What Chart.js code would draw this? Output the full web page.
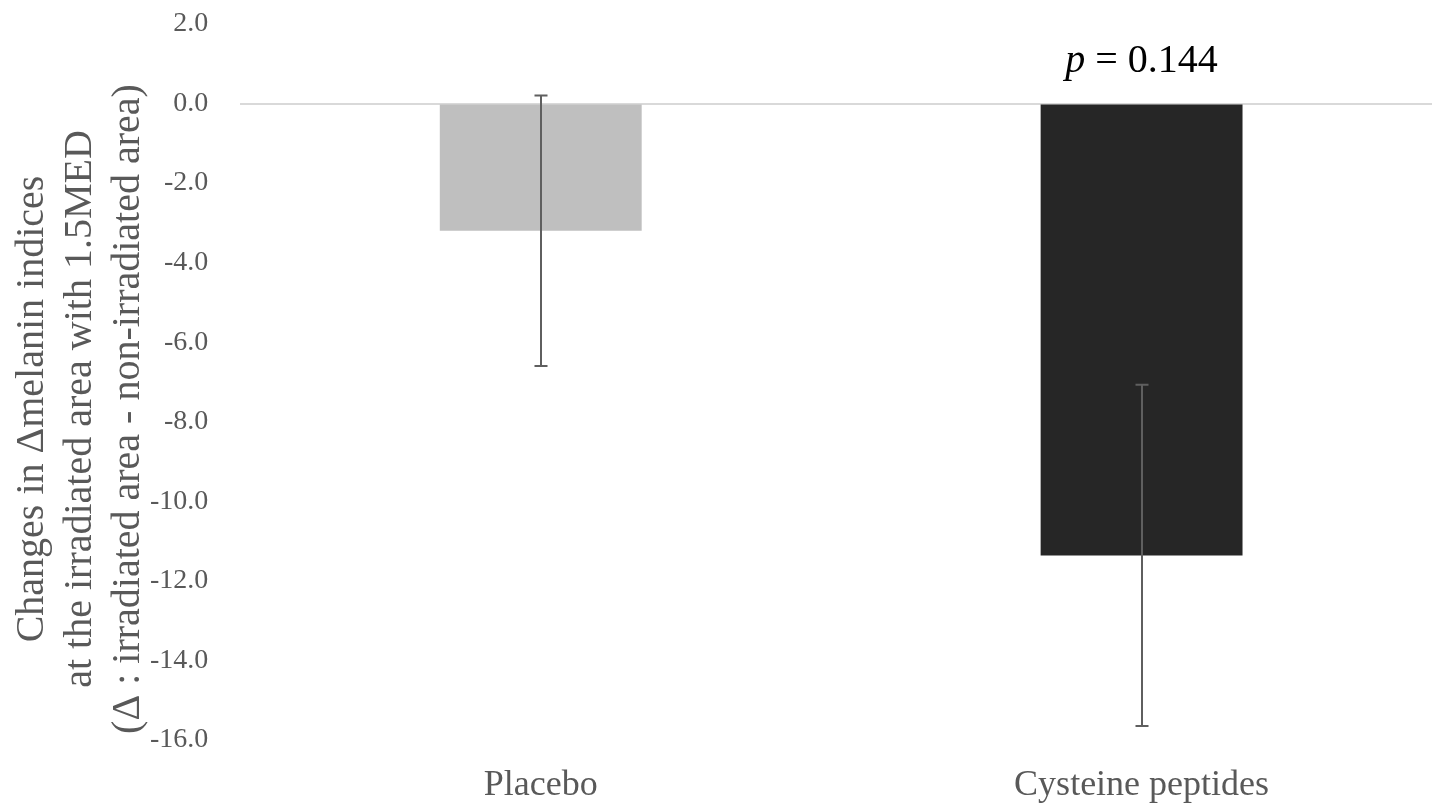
<!DOCTYPE html>
<html>
<head>
<meta charset="utf-8">
<script src="https://cdn.jsdelivr.net/npm/chart.js@4"></script>
<style>
  html, body { margin: 0; padding: 0; background: #fff; overflow: hidden; }
  /* a bit wider than the window: the zero line runs off the right edge like the original */
  #wrap { width: 1442px; height: 809px; }
</style>
</head>
<body>
<div id="wrap"><canvas id="chart"></canvas></div>
<script>
const categories = ["Placebo", "Cysteine peptides"];
const meanValues = [-3.2, -11.36];
const errorValues = [3.4, 4.29];
const barColors = ["#bfbfbf", "#262626"];
const yTicks = [2, 0, -2, -4, -6, -8, -10, -12, -14, -16];
const yTitle = [
  "Changes in \u0394melanin indices",
  "at the irradiated area with 1.5MED",
  "(\u0394 : irradiated area - non-irradiated area)"
];
const pLabel = { italic: "p", rest: " = 0.144", index: 1 };

const FONT = "'Liberation Serif', 'Times New Roman', serif";
const GREY = "#595959";
const NONE = "rgba(0,0,0,0)";

// error bars drawn through the y scale
const errorBars = {
  id: "errorBars",
  afterDatasetsDraw(chart) {
    const ctx = chart.ctx;
    const y = chart.scales.y;
    const meta = chart.getDatasetMeta(0);
    ctx.save();
    ctx.strokeStyle = "#5f5f5f";
    ctx.lineWidth = 2;
    meta.data.forEach((bar, i) => {
      const top = y.getPixelForValue(meanValues[i] + errorValues[i]);
      const bot = y.getPixelForValue(meanValues[i] - errorValues[i]);
      const x = Math.round(bar.x);
      ctx.beginPath();
      ctx.moveTo(x, top); ctx.lineTo(x, bot);
      ctx.moveTo(x - 6.5, top); ctx.lineTo(x + 6.5, top);
      ctx.moveTo(x - 6.5, bot); ctx.lineTo(x + 6.5, bot);
      ctx.stroke();
    });
    ctx.restore();
  }
};

// three-line axis title and the p-value note
const extras = {
  id: "extras",
  afterDraw(chart) {
    const ctx = chart.ctx;
    const y = chart.scales.y;
    ctx.save();
    ctx.fillStyle = GREY;
    ctx.font = "40px " + FONT;
    ctx.textAlign = "center";
    ctx.textBaseline = "middle";
    ctx.translate(80, 409);
    ctx.rotate(-Math.PI / 2);
    yTitle.forEach((line, i) => ctx.fillText(line, 0, (i - 1) * 48));
    ctx.restore();

    const bar = chart.getDatasetMeta(0).data[pLabel.index];
    ctx.save();
    ctx.fillStyle = "#000";
    ctx.textBaseline = "alphabetic";
    ctx.font = "italic 40px " + FONT;
    const w1 = ctx.measureText(pLabel.italic).width;
    ctx.font = "40px " + FONT;
    const w2 = ctx.measureText(pLabel.rest).width;
    const x0 = bar.x - (w1 + w2) / 2;
    const by = y.getPixelForValue(0) - 32;
    ctx.font = "italic 40px " + FONT;
    ctx.fillText(pLabel.italic, x0, by);
    ctx.font = "40px " + FONT;
    ctx.fillText(pLabel.rest, x0 + w1, by);
    ctx.restore();
  }
};

new Chart(document.getElementById("chart"), {
  type: "bar",
  data: {
    labels: categories,
    datasets: [{
      data: meanValues,
      backgroundColor: barColors,
      borderWidth: 0,
      categoryPercentage: 1,
      barPercentage: 0.336
    }]
  },
  options: {
    responsive: true,
    maintainAspectRatio: false,
    animation: false,
    events: [],
    layout: { padding: { left: 150, right: 0, top: 24, bottom: 5 } },
    plugins: { legend: { display: false }, tooltip: { enabled: false } },
    scales: {
      x: {
        grid: { display: true, drawOnChartArea: false, drawTicks: true, tickLength: 28, tickColor: NONE, color: NONE },
        border: { display: false },
        ticks: { color: GREY, font: { family: FONT, size: 36, lineHeight: 1 }, padding: 0 }
      },
      y: {
        min: -16,
        max: 2,
        afterBuildTicks(axis) { axis.ticks = yTicks.map(v => ({ value: v })); },
        grid: {
          drawTicks: true,
          tickLength: 32,
          tickColor: NONE,
          lineWidth: 2,
          color: c => (c.tick && c.tick.value === 0 ? "#d9d9d9" : NONE)
        },
        border: { display: false },
        ticks: {
          color: GREY,
          font: { family: FONT, size: 28 },
          padding: 0,
          callback: v => Number(v).toFixed(1)
        }
      }
    }
  },
  plugins: [errorBars, extras]
});
</script>
</body>
</html>
